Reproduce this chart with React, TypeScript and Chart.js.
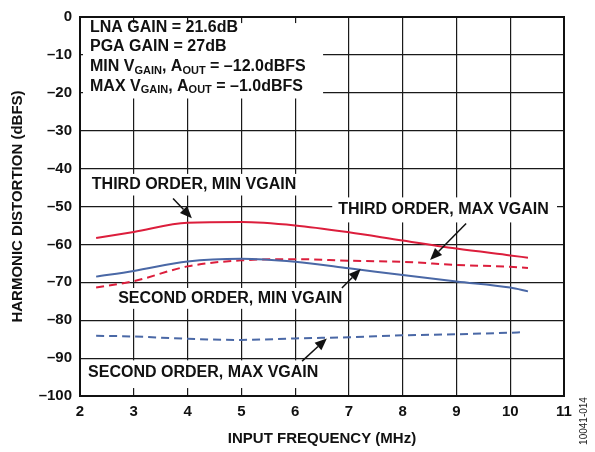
import React, { useEffect, useRef } from "react";
import { Chart, registerables } from "chart.js";

Chart.register(...registerables);

const freq = [2.3, 3, 4, 5, 6, 7, 8, 9, 10, 10.33];
const freqSecondMax = [2.3, 3, 4, 5, 6, 7, 8, 9, 10, 10.2];
const thirdOrderMin = [-58.3, -56.7, -54.3, -54.1, -55.0, -56.8, -59.0, -61.1, -62.9, -63.5];
const secondOrderMin = [-68.5, -67.0, -64.5, -63.8, -64.6, -66.3, -68.1, -69.8, -71.4, -72.4];
const thirdOrderMax = [-71.4, -69.7, -65.8, -64.2, -63.9, -64.3, -64.6, -65.4, -65.9, -66.2];
const secondOrderMax = [-84.1, -84.3, -84.9, -85.2, -84.8, -84.5, -84.0, -83.7, -83.3, -83.2];

const RED = "#dc1e3c";
const BLUE = "#4a68a6";
const FONT = "'Liberation Sans', Arial, sans-serif";

type Seg = { t: string; sub?: boolean };
type Label = {
  lines: Seg[][];
  x: number;
  ys: number[];
  box: [number, number, number, number];
  arrow?: [number, number, number, number];
};

const labels: Label[] = [
  {
    lines: [
      [{ t: "LNA GAIN = 21.6dB" }],
      [{ t: "PGA GAIN = 27dB" }],
      [{ t: "MIN V" }, { t: "GAIN", sub: true }, { t: ", A" }, { t: "OUT", sub: true }, { t: " = –12.0dBFS" }],
      [{ t: "MAX V" }, { t: "GAIN", sub: true }, { t: ", A" }, { t: "OUT", sub: true }, { t: " = –1.0dBFS" }],
    ],
    x: 2.186,
    ys: [-2.7, -7.9, -13.1, -18.3],
    box: [2.056, -1.6, 6.52, -21.5],
  },
  {
    lines: [[{ t: "THIRD ORDER, MIN VGAIN" }]],
    x: 2.22,
    ys: [-44.2],
    box: [2.15, -41.4, 6.09, -47.1],
    arrow: [3.73, -47.9, 4.08, -53.1],
  },
  {
    lines: [[{ t: "THIRD ORDER, MAX VGAIN" }]],
    x: 6.8,
    ys: [-50.8],
    box: [6.69, -47.6, 10.87, -54.2],
    arrow: [9.18, -54.5, 8.51, -64.1],
  },
  {
    lines: [[{ t: "SECOND ORDER, MIN VGAIN" }]],
    x: 2.71,
    ys: [-74.3],
    box: [2.6, -71.5, 6.93, -77.0],
    arrow: [6.87, -71.5, 7.22, -66.5],
  },
  {
    lines: [[{ t: "SECOND ORDER, MAX VGAIN" }]],
    x: 2.15,
    ys: [-93.7],
    box: [2.07, -90.6, 6.5, -97.9],
    arrow: [6.13, -90.8, 6.59, -84.8],
  },
];

const annotationPlugin = {
  id: "annots",
  beforeDatasetsDraw(chart: any) {
    const { ctx, scales } = chart;
    const xs = scales.x, ys = scales.y;
    ctx.save();
    ctx.fillStyle = "#fff";
    for (const l of labels) {
      const [x1, y1, x2, y2] = l.box;
      const px1 = xs.getPixelForValue(x1), px2 = xs.getPixelForValue(x2);
      const py1 = ys.getPixelForValue(y1), py2 = ys.getPixelForValue(y2);
      ctx.fillRect(px1, py1, px2 - px1, py2 - py1);
    }
    ctx.restore();
  },
  afterDraw(chart: any) {
    const { ctx, scales, chartArea } = chart;
    const xs = scales.x, ys = scales.y;
    ctx.save();
    ctx.strokeStyle = "#111";
    ctx.lineWidth = 2;
    ctx.strokeRect(chartArea.left, chartArea.top, chartArea.right - chartArea.left, chartArea.bottom - chartArea.top);
    ctx.fillStyle = "#111";
    ctx.textBaseline = "middle";
    ctx.textAlign = "left";
    for (const l of labels) {
      l.lines.forEach((segs, i) => {
        let px = xs.getPixelForValue(l.x);
        const py = ys.getPixelForValue(l.ys[i]);
        for (const s of segs) {
          ctx.font = s.sub ? `bold 11px ${FONT}` : `bold 16px ${FONT}`;
          ctx.fillText(s.t, px, s.sub ? py + 4 : py);
          px += ctx.measureText(s.t).width;
        }
      });
      if (l.arrow) {
        const [ax1, ay1, ax2, ay2] = l.arrow;
        const x1 = xs.getPixelForValue(ax1), y1 = ys.getPixelForValue(ay1);
        const x2 = xs.getPixelForValue(ax2), y2 = ys.getPixelForValue(ay2);
        const ang = Math.atan2(y2 - y1, x2 - x1);
        const hl = 12, hw = 5;
        const bx = x2 - hl * Math.cos(ang), by = y2 - hl * Math.sin(ang);
        ctx.strokeStyle = "#111";
        ctx.lineWidth = 1.5;
        ctx.beginPath();
        ctx.moveTo(x1, y1);
        ctx.lineTo(bx, by);
        ctx.stroke();
        ctx.beginPath();
        ctx.moveTo(x2, y2);
        ctx.lineTo(bx + hw * Math.sin(ang), by - hw * Math.cos(ang));
        ctx.lineTo(bx - hw * Math.sin(ang), by + hw * Math.cos(ang));
        ctx.closePath();
        ctx.fill();
      }
    }
    ctx.font = `10px ${FONT}`;
    ctx.fillStyle = "#222";
    ctx.translate(584, 421);
    ctx.rotate(-Math.PI / 2);
    ctx.textAlign = "center";
    ctx.fillText("10041-014", 0, 0);
    ctx.restore();
  },
};

function pts(xv: number[], yv: number[]) {
  return xv.map((x, i) => ({ x, y: yv[i] }));
}

export default function App() {
  const ref = useRef<HTMLCanvasElement>(null);
  useEffect(() => {
    if (!ref.current) return;
    const chart = new Chart(ref.current, {
      type: "line",
      data: {
        datasets: [
          { data: pts(freq, thirdOrderMin), borderColor: RED, borderWidth: 2 },
          { data: pts(freq, secondOrderMin), borderColor: BLUE, borderWidth: 2 },
          { data: pts(freq, thirdOrderMax), borderColor: RED, borderWidth: 2, borderDash: [8, 5] },
          { data: pts(freqSecondMax, secondOrderMax), borderColor: BLUE, borderWidth: 2, borderDash: [8, 5] },
        ].map((d) => ({ ...d, pointRadius: 0, fill: false, cubicInterpolationMode: "monotone" as const })),
      },
      options: {
        animation: false,
        responsive: false,
        layout: { padding: { top: 14, right: 31, left: 0, bottom: 0 } },
        plugins: { legend: { display: false }, tooltip: { enabled: false } },
        scales: {
          x: {
            type: "linear",
            min: 2,
            max: 11,
            afterFit: (s: any) => { s.height = 56; },
            grid: { color: "#1a1a1a", lineWidth: 1.2, drawTicks: false },
            border: { color: "#111", width: 2 },
            ticks: { stepSize: 1, padding: 7, color: "#111", font: { family: FONT, size: 15, weight: "bold" } },
            title: { display: true, text: "INPUT FREQUENCY (MHz)", color: "#111", padding: { top: 4 }, font: { family: FONT, size: 15, weight: "bold" } },
          },
          y: {
            min: -100,
            max: 0,
            afterFit: (s: any) => { s.width = 80; },
            grid: { color: "#1a1a1a", lineWidth: 1.2, drawTicks: false },
            border: { color: "#111", width: 2 },
            ticks: {
              stepSize: 10,
              padding: 8,
              color: "#111",
              font: { family: FONT, size: 15, weight: "bold" },
              callback: (v: any) => (v < 0 ? "–" + Math.abs(v) : String(v)),
            },
            title: { display: true, text: "HARMONIC DISTORTION (dBFS)", color: "#111", padding: { bottom: 0, top: 9 }, font: { family: FONT, size: 15, weight: "bold" } },
          },
        },
      },
      plugins: [annotationPlugin],
    });
    return () => chart.destroy();
  }, []);
  return (
    <div style={{ position: "absolute", left: 0, top: 0, width: 595, height: 452, background: "#fff" }}>
      <canvas ref={ref} width={595} height={452} style={{ width: 595, height: 452 }} />
    </div>
  );
}
